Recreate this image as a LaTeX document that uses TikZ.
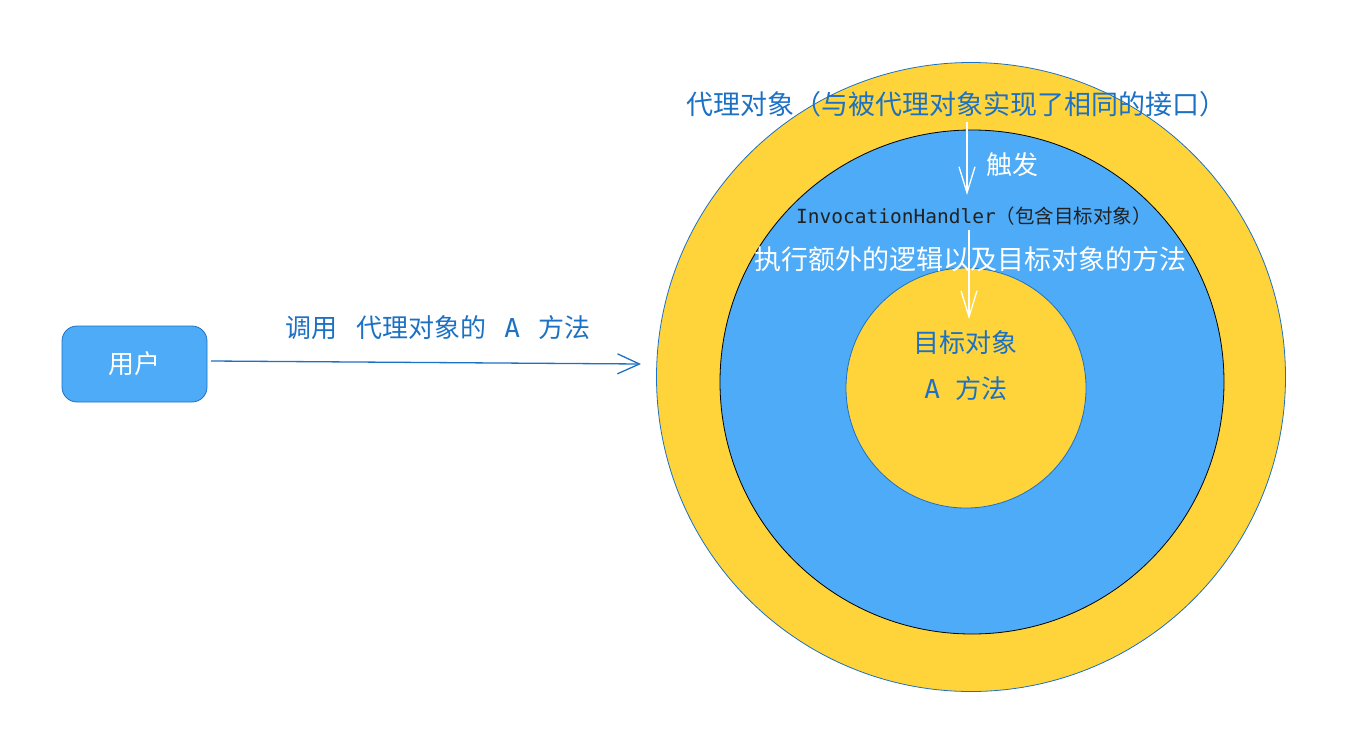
\documentclass[tikz,border=0pt]{standalone}
\usepackage{fontspec}
\setmainfont{Noto Sans CJK SC}
\setmonofont{DejaVu Sans Mono}
\usepackage{tikz}
\usetikzlibrary{arrows.meta,positioning}
\definecolor{gold}{RGB}{255,212,59}
\definecolor{sky}{RGB}{77,171,247}
\definecolor{deepblue}{RGB}{28,113,196}
\definecolor{ink}{RGB}{33,33,33}

\begin{document}
\begin{tikzpicture}[x=1pt,y=-1pt,>={Straight Barb[length=22pt,width=20pt]},
  ring/.style={circle,inner sep=0pt,line width=0.8pt},
  userbox/.style={draw=deepblue,fill=sky,rounded corners=15pt,line width=0.8pt,
    minimum width=145pt,minimum height=76pt,text=white},
  big/.style={font=\fontsize{26}{30}\selectfont}]
\useasboundingbox (0,0) rectangle (1347,747);
%circles
\node[ring,draw=deepblue,fill=gold,minimum size=629pt] (proxy) at (971,377) {};
\node[ring,draw=black,fill=sky,minimum size=504pt] (handler) at (972,382) {};
\node[ring,draw=deepblue,fill=gold,minimum size=240pt] (target) at (966,388) {};
%texts
\node[text=deepblue,font=\fontsize{27}{31}\selectfont] (ptitle) at (956,104) {代理对象（与被代理对象实现了相同的接口）};
\node[big,text=white] (fire) at (1012,165) {触发};
\node[text=ink,font=\fontsize{19.5}{23}\selectfont] (htitle) at (974,216)
  {{\ttfamily InvocationHandler}（包含目标对象）};
\node[text=white,font=\fontsize{27}{31}\selectfont] (extra) at (970,259) {执行额外的逻辑以及目标对象的方法};
\node[big,text=deepblue] (tname) at (965,343) {目标对象};
\node[big,text=deepblue] (tmethod) at (966,389) {{\ttfamily A}\hspace{0.6em}方法};
%user
\node[userbox,big] (user) at (134.5,364) {用户};
\coordinate (callstart) at (211,361);
\coordinate (callend) at (641,364);
\draw[->,deepblue,line width=1.3pt] (callstart) -- (callend)
  node[midway,above=19pt,xshift=12pt,text=deepblue,font=\fontsize{26}{30}\selectfont] (call) {调用\hspace{0.7em}代理对象的\hspace{0.7em}{\ttfamily A}\hspace{0.7em}方法};
%white arrows
\coordinate (f1) at (967,122);
\coordinate (f2) at (967,195);
\coordinate (e1) at (969,230);
\coordinate (e2) at (969,319);
\draw[->,>={Straight Barb[length=26pt,width=16pt]},white,line width=1.3pt] (f1) -- (f2);
\draw[->,>={Straight Barb[length=26pt,width=16pt]},white,line width=1.3pt] (e1) -- (e2);
\end{tikzpicture}
\end{document}
